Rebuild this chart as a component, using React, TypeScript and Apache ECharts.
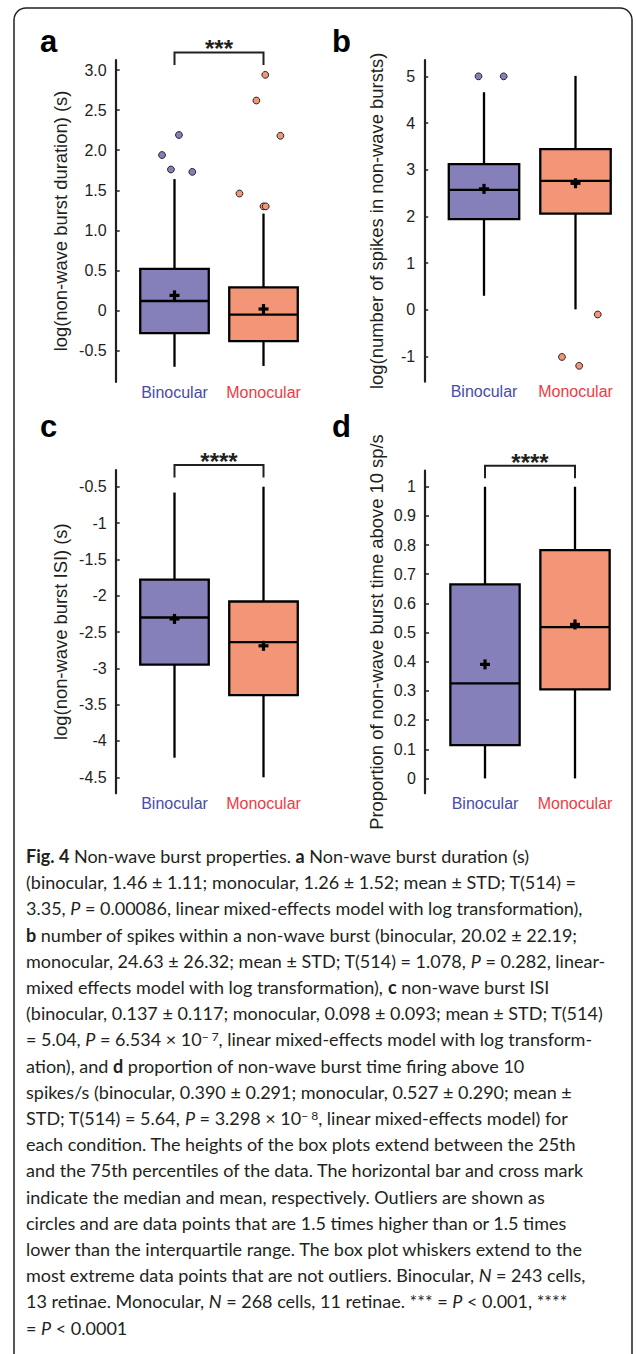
import React, { useEffect, useRef } from 'react';
import * as echarts from 'echarts';

// ---------- data ----------
const categories = ['Binocular', 'Monocular'];
const boxColors = ['#8580BA', '#F39677'];
const labelColors = ['#4A4AA8', '#EE3B43'];

// stats per condition: [min whisker, Q1, median, Q3, max whisker]
const durStats = [[-0.70, -0.28, 0.12, 0.52, 1.64], [-0.69, -0.38, -0.05, 0.29, 1.21]];
const durMeans = [0.19, 0.02];
// outliers: [condition, value, horizontal jitter (fraction of band)]
const durOutliers = [
  [0, 1.94, -0.14], [0, 2.19, 0.05], [0, 1.76, -0.04], [0, 1.73, 0.2],
  [1, 2.94, 0.02], [1, 2.62, -0.08], [1, 2.18, 0.19], [1, 1.46, -0.27], [1, 1.3, 0.0], [1, 1.3, 0.025],
];
const durTicks = [-0.5, 0, 0.5, 1, 1.5, 2, 2.5, 3];
const durTickLabels = ['-0.5', '0', '0.5', '1.0', '1.5', '2.0', '2.5', '3.0'];

const spkStats = [[0.3, 1.94, 2.57, 3.12, 4.66], [0.01, 2.06, 2.76, 3.44, 5.01]];
const spkMeans = [2.59, 2.71];
const spkOutliers = [[0, 5.0, -0.06], [0, 5.0, 0.215], [1, -0.1, 0.243], [1, -1.01, -0.148], [1, -1.2, 0.04]];
const spkTicks = [-1, 0, 1, 2, 3, 4, 5];
const spkTickLabels = ['-1', '0', '1', '2', '3', '4', '5'];

const isiStats = [[-4.23, -2.95, -2.3, -1.78, -0.58], [-4.5, -3.37, -2.64, -2.08, -0.5]];
const isiMeans = [-2.32, -2.69];
const isiOutliers: number[][] = [];
const isiTicks = [-4.5, -4, -3.5, -3, -2.5, -2, -1.5, -1, -0.5];
const isiTickLabels = ['-4.5', '-4', '-3.5', '-3', '-2.5', '-2', '-1.5', '-1', '-0.5'];

const propStats = [[0.0, 0.114, 0.326, 0.665, 1.0], [0.0, 0.305, 0.519, 0.783, 1.0]];
const propMeans = [0.391, 0.528];
const propOutliers: number[][] = [];
const propTicks = [0, 0.1, 0.2, 0.3, 0.4, 0.5, 0.6, 0.7, 0.8, 0.9, 1];
const propTickLabels = ['0', '0.1', '0.2', '0.3', '0.4', '0.5', '0.6', '0.7', '0.8', '0.9', '1'];

const panelLetters = ['a', 'b', 'c', 'd'];
const axisNames = [
  'log(non-wave burst duration) (s)',
  'log(number of spikes in non-wave bursts)',
  'log(non-wave burst ISI) (s)',
  'Proportion of non-wave burst time above 10 sp/s',
];
const sigLabels = ['***', '', '****', '****'];
const sigLevels = [3.22, 0, -0.2, 1.072];

const captionLines = [
  '{b|Fig. 4} Non-wave burst properties. {b|a} Non-wave burst duration (s)',
  '(binocular, 1.46 ± 1.11; monocular, 1.26 ± 1.52; mean ± STD; T(514) =',
  '3.35, {i|P} = 0.00086, linear mixed-effects model with log transformation),',
  '{b|b} number of spikes within a non-wave burst (binocular, 20.02 ± 22.19;',
  'monocular, 24.63 ± 26.32; mean ± STD; T(514) = 1.078, {i|P} = 0.282, linear-',
  'mixed effects model with log transformation), {b|c} non-wave burst ISI',
  '(binocular, 0.137 ± 0.117; monocular, 0.098 ± 0.093; mean ± STD; T(514)',
  '= 5.04, {i|P} = 6.534 × 10{sup|− 7}, linear mixed-effects model with log transform-',
  'ation), and {b|d} proportion of non-wave burst time firing above 10',
  'spikes/s (binocular, 0.390 ± 0.291; monocular, 0.527 ± 0.290; mean ±',
  'STD; T(514) = 5.64, {i|P} = 3.298 × 10{sup|− 8}, linear mixed-effects model) for',
  'each condition. The heights of the box plots extend between the 25th',
  'and the 75th percentiles of the data. The horizontal bar and cross mark',
  'indicate the median and mean, respectively. Outliers are shown as',
  'circles and are data points that are 1.5 times higher than or 1.5 times',
  'lower than the interquartile range. The box plot whiskers extend to the',
  'most extreme data points that are not outliers. Binocular, {i|N} = 243 cells,',
  '13 retinae. Monocular, {i|N} = 268 cells, 11 retinae. *** = {i|P} < 0.001, ****',
  '= {i|P} < 0.0001',
];

// ---------- layout ----------
const INK = '#231F20';
const FONT = '"Liberation Sans", Arial, Helvetica, sans-serif';
const CAP_FONT = 'Lato, "Open Sans", sans-serif';
const CAP_SIZE = 18;
const NAME_SIZE = 18.4;

const panels = [
  { stats: durStats, means: durMeans, outliers: durOutliers, ticks: durTicks, labels: durTickLabels,
    min: -0.89, max: 3.125, grid: { left: 130, top: 60, width: 178, height: 322 }, offset: 14.3, nameGap: 46.5,
    letter: { x: 40, y: 41 } },
  { stats: spkStats, means: spkMeans, outliers: spkOutliers, ticks: spkTicks, labels: spkTickLabels,
    min: -1.54, max: 5.35, grid: { left: 438.25, top: 60, width: 183, height: 321.7 }, offset: 14, nameGap: 39,
    letter: { x: 332, y: 41 } },
  { stats: isiStats, means: isiMeans, outliers: isiOutliers, ticks: isiTicks, labels: isiTickLabels,
    min: -4.72, max: -0.27, grid: { left: 130, top: 470, width: 178, height: 323.3 }, offset: 14.3, nameGap: 46.5,
    letter: { x: 40, y: 426 } },
  { stats: propStats, means: propMeans, outliers: propOutliers, ticks: propTicks, labels: propTickLabels,
    min: -0.051, max: 1.055, grid: { left: 440, top: 470.7, width: 180, height: 322.6 }, offset: 15, nameGap: 40,
    letter: { x: 332, y: 426 } },
];

function renderBox(_params: any, api: any) {
  const cat = api.value(0);
  const x = api.coord([cat, api.value(1)])[0];
  const yMin = api.coord([cat, api.value(1)])[1];
  const yQ1 = api.coord([cat, api.value(2)])[1];
  const yMed = api.coord([cat, api.value(3)])[1];
  const yQ3 = api.coord([cat, api.value(4)])[1];
  const yMax = api.coord([cat, api.value(5)])[1];
  const yMean = api.coord([cat, api.value(6)])[1];
  const band = api.size([1, 0])[0];
  const hw = band * 0.385;
  const lw = 2.3;
  const stroke = { stroke: '#000', lineWidth: lw };
  return {
    type: 'group',
    children: [
      { type: 'line', shape: { x1: x, y1: yMax, x2: x, y2: yQ3 }, style: stroke },
      { type: 'line', shape: { x1: x, y1: yQ1, x2: x, y2: yMin }, style: stroke },
      { type: 'rect', shape: { x: x - hw, y: yQ3, width: hw * 2, height: yQ1 - yQ3 },
        style: { fill: boxColors[cat], stroke: '#000', lineWidth: lw } },
      { type: 'line', shape: { x1: x - hw, y1: yMed, x2: x + hw, y2: yMed }, style: stroke },
      { type: 'line', shape: { x1: x - 5, y1: yMean, x2: x + 5, y2: yMean }, style: { stroke: '#000', lineWidth: 3.2 } },
      { type: 'line', shape: { x1: x, y1: yMean - 5, x2: x, y2: yMean + 5 }, style: { stroke: '#000', lineWidth: 3.2 } },
    ],
  };
}

function renderOutlier(_params: any, api: any) {
  const cat = api.value(0);
  const p = api.coord([cat, api.value(1)]);
  const band = api.size([1, 0])[0];
  return {
    type: 'circle',
    shape: { cx: p[0] + api.value(2) * band, cy: p[1], r: 3.4 },
    style: { fill: boxColors[cat], stroke: '#222', lineWidth: 1 },
  };
}

function makeBracketRenderer(text: string) {
  return (_params: any, api: any) => {
    const p0 = api.coord([api.value(0), api.value(2)]);
    const p1 = api.coord([api.value(1), api.value(2)]);
    const tick = 12.5;
    return {
      type: 'group',
      children: [
        { type: 'polyline', shape: { points: [[p0[0], p0[1] + tick], [p0[0], p0[1]], [p1[0], p1[1]], [p1[0], p1[1] + tick]] },
          style: { fill: 'none', stroke: INK, lineWidth: 2 } },
        { type: 'text', x: (p0[0] + p1[0]) / 2, y: p0[1] - 3.7,
          style: { text, fill: INK, font: `bold 24px ${FONT}`, align: 'center', verticalAlign: 'middle' } },
      ],
    };
  };
}

function buildOption() {
  const grid: any[] = [];
  const xAxis: any[] = [];
  const yAxis: any[] = [];
  const series: any[] = [];
  const graphic: any[] = [];

  graphic.push({
    type: 'rect', z: -10, silent: true,
    shape: { x: 14, y: 8, width: 618, height: 1400, r: 12 },
    style: { fill: 'none', stroke: INK, lineWidth: 1.5 },
  });

  panels.forEach((p, i) => {
    grid.push({ ...p.grid, containLabel: false, outerBoundsMode: 'none' });
    xAxis.push({
      gridIndex: i, type: 'category', data: categories,
      axisLine: { show: false }, axisTick: { show: false }, splitLine: { show: false },
      axisLabel: {
        interval: 0, hideOverlap: false,
        margin: 2, fontSize: 16, fontFamily: FONT,
        formatter: (v: string, idx: number) => `{c${idx}|${v}}`,
        rich: {
          c0: { color: labelColors[0], fontSize: 16, fontFamily: FONT },
          c1: { color: labelColors[1], fontSize: 16, fontFamily: FONT },
        },
      },
    });
    const ticks = p.ticks;
    const labels = p.labels;
    yAxis.push({
      gridIndex: i, type: 'value', min: p.min, max: p.max, offset: p.offset,
      axisLine: { show: true, onZero: false, lineStyle: { color: INK, width: 2.2 } },
      axisTick: { show: true, inside: true, length: 4, customValues: ticks, lineStyle: { color: INK, width: 1.5 } },
      axisLabel: {
        customValues: ticks, margin: 9, fontSize: 16, color: INK, fontFamily: FONT,
        formatter: (v: number) => {
          const k = ticks.findIndex((t) => Math.abs(t - v) < 1e-9);
          return k >= 0 ? labels[k] : '';
        },
      },
      splitLine: { show: false },
      name: axisNames[i], nameLocation: 'middle', nameGap: p.nameGap, nameRotate: 90, nameMoveOverlap: false,
      nameTextStyle: { fontSize: NAME_SIZE, color: INK, fontFamily: FONT },
    });
    const boxData = p.stats.map((s, k) => [k, ...s, p.means[k]]);
    series.push({
      type: 'custom', xAxisIndex: i, yAxisIndex: i, renderItem: renderBox, clip: false,
      encode: { x: 0, y: [1, 2, 3, 4, 5, 6] }, data: boxData, z: 2,
    });
    if (p.outliers.length) {
      series.push({
        type: 'custom', xAxisIndex: i, yAxisIndex: i, renderItem: renderOutlier, clip: false,
        encode: { x: 0, y: 1 }, data: p.outliers, z: 3,
      });
    }
    if (sigLabels[i]) {
      series.push({
        type: 'custom', xAxisIndex: i, yAxisIndex: i, renderItem: makeBracketRenderer(sigLabels[i]), clip: false,
        encode: { x: [0, 1], y: 2 }, data: [[0, 1, sigLevels[i]]], z: 3,
      });
    }
    graphic.push({
      type: 'text', x: p.letter.x, y: p.letter.y,
      style: { text: panelLetters[i], fill: '#000', font: `bold 31px ${FONT}`, align: 'left', verticalAlign: 'middle' },
    });
  });

  captionLines.forEach((line, k) => {
    graphic.push({
      type: 'text', x: 26, y: 856 + k * 26.2,
      style: {
        text: line, fill: INK, fontFamily: CAP_FONT, fontSize: CAP_SIZE, align: 'left', verticalAlign: 'middle',
        rich: {
          b: { fontWeight: 'bold', fontFamily: CAP_FONT, fontSize: CAP_SIZE, fill: INK },
          i: { fontStyle: 'italic', fontFamily: CAP_FONT, fontSize: CAP_SIZE, fill: INK },
          sup: { fontFamily: CAP_FONT, fontSize: 12, fill: INK, verticalAlign: 'top', lineHeight: CAP_SIZE },
        },
      },
    });
  });

  return { animation: false, backgroundColor: '#fff', grid, xAxis, yAxis, series, graphic };
}

export default function App() {
  const ref = useRef<HTMLDivElement>(null);
  useEffect(() => {
    document.body.style.margin = '0';
    const chart = echarts.init(ref.current!, undefined, { renderer: 'svg' });
    chart.setOption(buildOption() as any);
    return () => chart.dispose();
  }, []);
  return <div ref={ref} style={{ width: 636, height: 1354 }} />;
}
